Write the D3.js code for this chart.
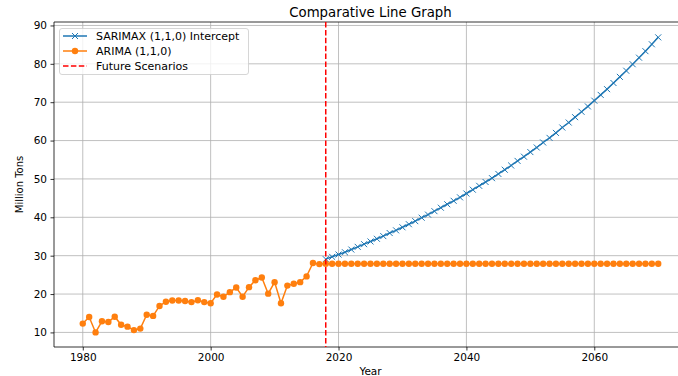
<!DOCTYPE html>
<html>
<head>
<meta charset="utf-8">
<script src="https://cdn.jsdelivr.net/npm/d3@7/dist/d3.min.js"></script>
<style>
  html, body { margin: 0; padding: 0; background: #fff; }
  svg { display: block; font-family: "DejaVu Sans", sans-serif; }
</style>
</head>
<body>
<svg id="chart" width="678" height="376"></svg>
<script>
// ARIMA (1,1,0): observed history followed by its flat forecast
const arimaStartYear = 1980;
const arimaValues = [
  12.3, 14.0, 10.0, 12.9, 12.7, 14.1, 12.0, 11.5, 10.6, 11.0,
  14.6, 14.3, 16.9, 18.0, 18.3, 18.3, 18.2, 17.9, 18.4, 17.9,
  17.6, 19.9, 19.3, 20.5, 21.7, 19.3, 21.8, 23.6, 24.3, 20.1,
  23.1, 17.6, 22.2, 22.7, 23.1, 24.6, 28.1, 27.8,
  27.9, 27.9, 27.9, 27.9, 27.9, 27.9, 27.9, 27.9, 27.9, 27.9,
  27.9, 27.9, 27.9, 27.9, 27.9, 27.9, 27.9, 27.9, 27.9, 27.9,
  27.9, 27.9, 27.9, 27.9, 27.9, 27.9, 27.9, 27.9, 27.9, 27.9,
  27.9, 27.9, 27.9, 27.9, 27.9, 27.9, 27.9, 27.9, 27.9, 27.9,
  27.9, 27.9, 27.9, 27.9, 27.9, 27.9, 27.9, 27.9, 27.9, 27.9,
  27.9, 27.9, 27.9
];

// SARIMAX (1,1,0) with intercept: forecast path
const sarimaxStartYear = 2018;
const sarimaxValues = [
  29.1, 29.7, 30.3, 30.9, 31.6, 32.3, 33.0, 33.7, 34.4, 35.1,
  35.9, 36.6, 37.4, 38.2, 39.0, 39.9, 40.7, 41.6, 42.5, 43.4,
  44.3, 45.2, 46.2, 47.2, 48.2, 49.2, 50.2, 51.3, 52.4, 53.5,
  54.7, 55.8, 57.0, 58.2, 59.5, 60.7, 62.0, 63.4, 64.7, 66.1,
  67.5, 68.9, 70.4, 71.9, 73.4, 75.0, 76.6, 78.2, 79.9, 81.6,
  83.3, 85.1, 86.9
];

const futureYear = 2018;
const xTicks = [1980, 2000, 2020, 2040, 2060];
const yTicks = [10, 20, 30, 40, 50, 60, 70, 80, 90];

const arima = arimaValues.map((v, i) => ({ year: arimaStartYear + i, value: v }));
const sarimax = sarimaxValues.map((v, i) => ({ year: sarimaxStartYear + i, value: v }));

const svg = d3.select("#chart");
const plot = { left: 54, right: 687, top: 22, bottom: 347 };

const x = d3.scaleLinear().domain([1975.5, 2074.5]).range([plot.left, plot.right]);
const y = d3.scaleLinear().domain([6.2, 90.9]).range([plot.bottom, plot.top]);

const blue = "#1f77b4", orange = "#ff7f0e", grid = "#b0b0b0";

// grid lines
const g = svg.append("g");
g.selectAll(".vg").data(xTicks).join("line")
  .attr("x1", d => x(d)).attr("x2", d => x(d))
  .attr("y1", plot.top).attr("y2", plot.bottom)
  .attr("stroke", grid).attr("stroke-width", 0.8);
g.selectAll(".hg").data(yTicks).join("line")
  .attr("x1", plot.left).attr("x2", plot.right)
  .attr("y1", d => y(d)).attr("y2", d => y(d))
  .attr("stroke", grid).attr("stroke-width", 0.8);

// axes
const xAxis = svg.append("g")
  .attr("transform", `translate(0,${plot.bottom})`)
  .call(d3.axisBottom(x).tickValues(xTicks).tickFormat(d3.format("d")).tickSize(3.5).tickPadding(3.5));
const yAxis = svg.append("g")
  .attr("transform", `translate(${plot.left},0)`)
  .call(d3.axisLeft(y).tickValues(yTicks).tickSize(3.5).tickPadding(3.5));
[xAxis, yAxis].forEach(a => {
  a.select(".domain").remove();
  a.selectAll("text").attr("fill", "#000").style("font-size", "10.5px").style("font-family", "DejaVu Sans");
  a.selectAll("line").attr("stroke", "#000").attr("stroke-width", 0.8);
});

// spines
svg.append("line").attr("x1", plot.left).attr("x2", plot.right).attr("y1", plot.bottom).attr("y2", plot.bottom)
  .attr("stroke", "#000").attr("stroke-width", 0.8);
svg.append("line").attr("x1", plot.left).attr("x2", plot.right).attr("y1", plot.top).attr("y2", plot.top)
  .attr("stroke", "#000").attr("stroke-width", 0.8);
svg.append("line").attr("x1", plot.left).attr("x2", plot.left).attr("y1", plot.top).attr("y2", plot.bottom)
  .attr("stroke", "#000").attr("stroke-width", 0.8);

const line = d3.line().x(d => x(d.year)).y(d => y(d.value));

// SARIMAX series with x markers
const sg = svg.append("g");
sg.append("path").datum(sarimax).attr("d", line)
  .attr("fill", "none").attr("stroke", blue).attr("stroke-width", 1.5);
const xm = 3;
sg.selectAll(".xm").data(sarimax).join("path")
  .attr("d", d => `M${x(d.year)-xm},${y(d.value)-xm}L${x(d.year)+xm},${y(d.value)+xm}M${x(d.year)-xm},${y(d.value)+xm}L${x(d.year)+xm},${y(d.value)-xm}`)
  .attr("stroke", blue).attr("stroke-width", 1).attr("fill", "none");

// ARIMA series with circle markers
const ag = svg.append("g");
ag.append("path").datum(arima).attr("d", line)
  .attr("fill", "none").attr("stroke", orange).attr("stroke-width", 1.5);
ag.selectAll("circle").data(arima).join("circle")
  .attr("cx", d => x(d.year)).attr("cy", d => y(d.value)).attr("r", 3.2)
  .attr("fill", orange);

// future scenarios marker
svg.append("line")
  .attr("x1", x(futureYear)).attr("x2", x(futureYear))
  .attr("y1", plot.top).attr("y2", plot.bottom)
  .attr("stroke", "red").attr("stroke-width", 1.5).attr("stroke-dasharray", "5.5,2.4");

// titles
svg.append("text").attr("x", (plot.left + plot.right) / 2).attr("y", 17)
  .attr("text-anchor", "middle").style("font-size", "13.3px").text("Comparative Line Graph");
svg.append("text").attr("x", (plot.left + plot.right) / 2).attr("y", 375)
  .attr("text-anchor", "middle").style("font-size", "10.5px").text("Year");
svg.append("text").attr("transform", `translate(23,${(plot.top + plot.bottom) / 2}) rotate(-90)`)
  .attr("text-anchor", "middle").style("font-size", "10px").text("Million Tons");

// legend
const legend = svg.append("g");
legend.append("rect").attr("x", 59.5).attr("y", 28.5).attr("width", 189).attr("height", 46)
  .attr("rx", 2.5).attr("fill", "#fff").attr("fill-opacity", 0.8)
  .attr("stroke", "#cccccc").attr("stroke-width", 0.8);
const items = [
  { label: "SARIMAX (1,1,0) Intercept", color: blue, marker: "x", dash: null },
  { label: "ARIMA (1,1,0)", color: orange, marker: "o", dash: null },
  { label: "Future Scenarios", color: "red", marker: null, dash: "5.5,2.4" }
];
items.forEach((it, i) => {
  const cy = 36 + i * 15;
  legend.append("line").attr("x1", 63).attr("x2", 87).attr("y1", cy).attr("y2", cy)
    .attr("stroke", it.color).attr("stroke-width", 1.5)
    .attr("stroke-dasharray", it.dash);
  if (it.marker === "x") {
    legend.append("path").attr("d", `M72,${cy-3}L78,${cy+3}M72,${cy+3}L78,${cy-3}`)
      .attr("stroke", it.color).attr("stroke-width", 1);
  } else if (it.marker === "o") {
    legend.append("circle").attr("cx", 75).attr("cy", cy).attr("r", 3.2).attr("fill", it.color);
  }
  legend.append("text").attr("x", 96).attr("y", cy + 4)
    .style("font-size", "11px").text(it.label);
});
</script>
</body>
</html>
